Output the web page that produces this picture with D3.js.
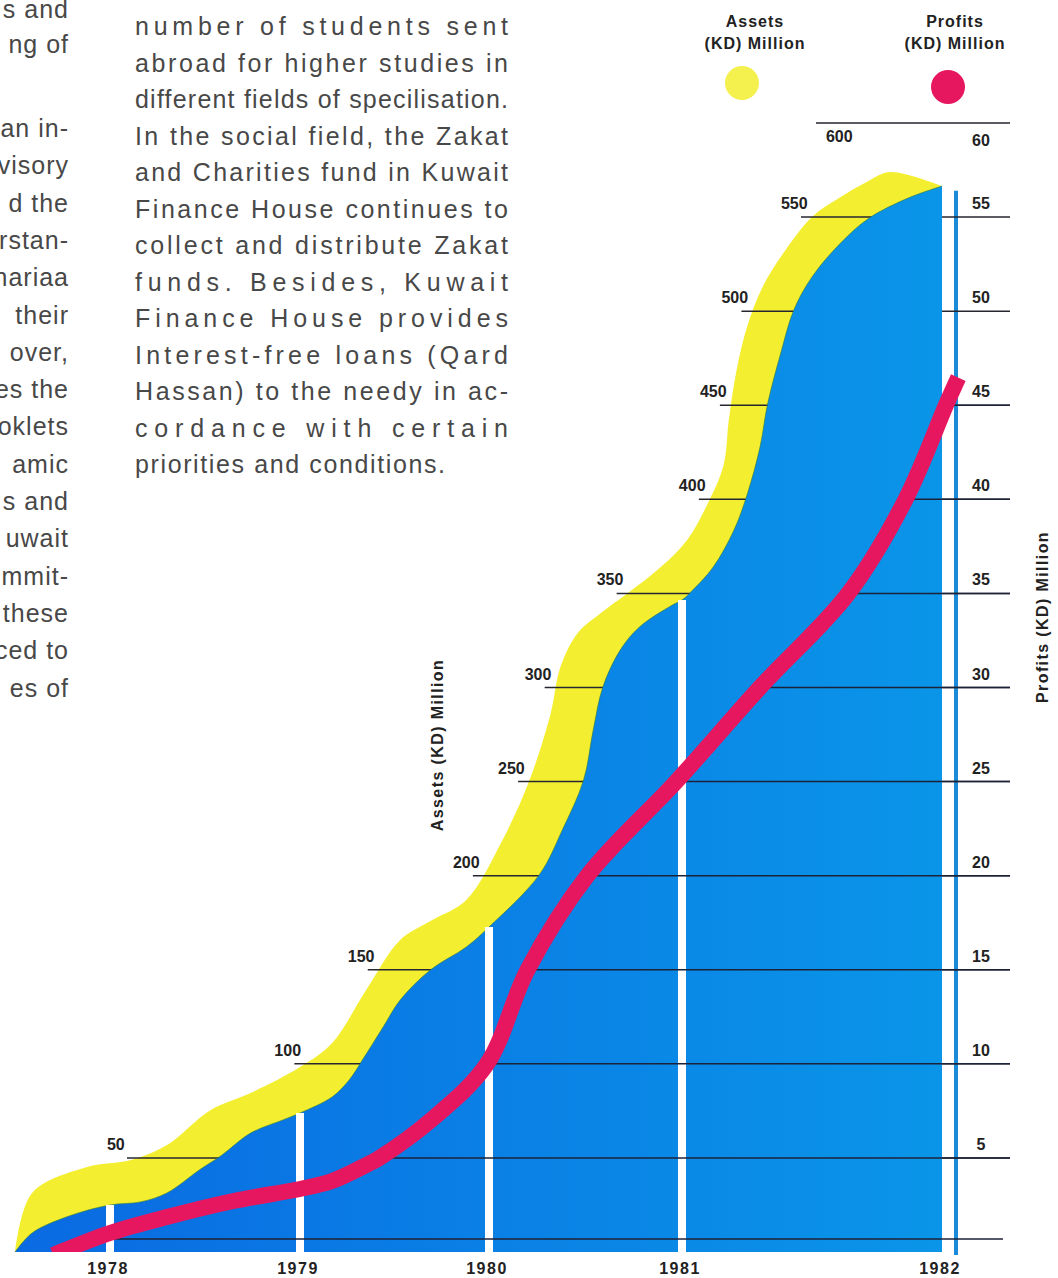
<!DOCTYPE html>
<html>
<head>
<meta charset="utf-8">
<script src="https://cdn.jsdelivr.net/npm/d3@7"></script>
<style>
  body { margin: 0; background: #fff; }
  svg { display: block; }
</style>
</head>
<body>
<svg width="1058" height="1278"></svg>
<script>
// values (assets and profits in KD million)
let yearNodes = [1977.5, 1978, 1979, 1980, 1981, 1982];
let years = [1978, 1979, 1980, 1981, 1982];
let assetTicks = [50, 100, 150, 200, 250, 300, 350, 400, 450, 500, 550, 600];
let profitTicks = [5, 10, 15, 20, 25, 30, 35, 40, 45, 50, 55, 60];

// outer (yellow) edge of the assets band
let assetsOuter = [
  [1977.5, 0], [1977.59, 31.4], [1977.88, 45.2], [1978.11, 48.9], [1978.30, 56.9],
  [1978.53, 75.5], [1978.74, 84.5], [1979, 98.3], [1979.17, 111.1], [1979.35, 139.2],
  [1979.53, 165.8], [1979.70, 176.4], [1979.88, 187.1], [1980.07, 219.0], [1980.21, 250.8],
  [1980.32, 286.5], [1980.37, 310.9], [1980.46, 329.0], [1980.58, 339.6], [1980.72, 350.2],
  [1980.89, 364.0], [1981.02, 378.4], [1981.10, 398.1], [1981.16, 418.3], [1981.18, 442.2],
  [1981.21, 468.7], [1981.25, 491.6], [1981.31, 512.9], [1981.39, 530.9], [1981.50, 550.1],
  [1981.61, 560.7], [1981.71, 568.7], [1981.80, 574.0], [1982, 566.5]
];
// inner (blue) edge
let assetsInner = [
  [1977.5, 0], [1977.59, 10.1], [1977.77, 18.6], [1978, 25.0], [1978.16, 26.6],
  [1978.30, 31.4], [1978.47, 43.6], [1978.59, 51.6], [1978.74, 63.2], [1978.91, 70.2],
  [1979, 73.9], [1979.17, 82.4], [1979.26, 91.4], [1979.33, 102.0], [1979.44, 119.6],
  [1979.53, 133.9], [1979.69, 149.9], [1979.88, 162.1], [1980, 172.7],
  [1980.26, 200.4], [1980.38, 224.3], [1980.49, 250.8], [1980.54, 277.4], [1980.59, 300.3],
  [1980.68, 319.9], [1980.78, 332.2], [1980.95, 343.8], [1981, 346.5], [1981.03, 350.2],
  [1981.12, 364.0], [1981.20, 383.7], [1981.25, 402.3], [1981.30, 427.8], [1981.33, 451.2],
  [1981.38, 477.8], [1981.43, 500.6], [1981.50, 518.2], [1981.61, 536.2], [1981.72, 549.5],
  [1981.87, 560.1], [1982, 566.5]
];
let profits = [
  [1977.74, 0], [1978, 1.01], [1978.30, 1.86], [1978.65, 2.71], [1979, 3.35],
  [1979.17, 3.77], [1979.35, 4.62], [1979.42, 5.0], [1979.70, 7.07], [1979.99, 10.0],
  [1980.20, 15.0], [1980.51, 20.0], [1980.97, 25.0], [1981.30, 30.0], [1981.64, 35.0],
  [1981.86, 40.0], [1982.015, 45.0], [1982.05, 46.08]
];

let bodyLines = [
  "number of students sent",
  "abroad for higher studies in",
  "different fields of specilisation.",
  "In the social field, the Zakat",
  "and Charities fund in Kuwait",
  "Finance House continues to",
  "collect and distribute Zakat",
  "funds. Besides, Kuwait",
  "Finance House provides",
  "Interest-free loans (Qard",
  "Hassan) to the needy in ac-",
  "cordance with certain",
  "priorities and conditions."
];
let marginTop = ["s and", "ng of"];
let marginLines = ["an in-", "visory", "d the", "rstan-", "nariaa", "their", "over,", "es the",
  "oklets", "amic", "s and", "uwait", "mmit-", "these", "ced to", "es of"];

let svg = d3.select('svg');
let font = '"Liberation Sans", Arial, sans-serif';

let x = d3.scaleLinear().domain(yearNodes).range([15, 110, 300, 489, 682, 942]);
let yA = d3.scaleLinear().domain([0, 600]).range([1252, 123]);
let yP = d3.scaleLinear().domain([0, 60]).range([1252, 123]);
let smooth = d3.curveCatmullRom.alpha(0.5);
let ruleEnd = 1010;

let defs = svg.append('defs');
defs.append('clipPath').attr('id', 'plot')
  .append('rect').attr('x', 0).attr('y', 0).attr('width', 1058).attr('height', yA(0));
let grad = defs.append('linearGradient').attr('id', 'blue')
  .attr('gradientUnits', 'userSpaceOnUse')
  .attr('x1', x(1977.5)).attr('x2', x(1982)).attr('y1', 0).attr('y2', 0);
grad.append('stop').attr('offset', 0).attr('stop-color', '#0a6ae2');
grad.append('stop').attr('offset', 1).attr('stop-color', '#0a95e8');

// ---- body text ----
let txt = svg.append('g').attr('font-family', font).attr('font-size', 25).attr('fill', '#484848');
bodyLines.forEach((s, i) => {
  txt.append('text')
    .attr('x', 135).attr('y', 35 + i * 36.5)
    .attr('textLength', i === bodyLines.length - 1 ? 310 : 373)
    .attr('lengthAdjust', 'spacing')
    .text(s);
});
marginTop.forEach((s, i) => {
  txt.append('text').attr('x', 69).attr('y', 18 + i * 35).attr('text-anchor', 'end')
    .attr('letter-spacing', 1).text(s);
});
marginLines.forEach((s, i) => {
  txt.append('text').attr('x', 69).attr('y', 137 + i * 37.3).attr('text-anchor', 'end')
    .attr('letter-spacing', 1).text(s);
});

// first point on a path at or above a given pixel height
let crossX = (node, yTarget) => {
  let L = node.getTotalLength();
  for (let s = 0; s <= L; s += 0.5) {
    let p = node.getPointAtLength(s);
    if (p.y <= yTarget) return p.x;
  }
  return null;
};

// ---- yellow band ----
let areaOf = data => d3.area().x(d => x(d[0])).y0(yA(0)).y1(d => yA(d[1])).curve(smooth)(data);
let lineOf = (data, yS) => d3.line().x(d => x(d[0])).y(d => yS(d[1])).curve(smooth)(data);

svg.append('path').attr('d', areaOf(assetsOuter)).attr('fill', '#f3ef30');
let outerEdge = svg.append('path').attr('d', lineOf(assetsOuter, yA))
  .attr('fill', 'none').attr('stroke', 'none');

// thin profits bar at the right
svg.append('rect')
  .attr('x', x(1982) + 12).attr('width', 4)
  .attr('y', yP(56.4)).attr('height', yP(0) - yP(56.4) + 3)
  .attr('fill', '#1b8ad9');

// asset rules, start a little before the yellow edge
let lastStart = 0;
let assetRules = assetTicks.map(t => {
  let cx = crossX(outerEdge.node(), yA(t));
  let top = cx == null;
  let start = top ? lastStart + 15 : cx - 11;
  if (!top) lastStart = start;
  return { t, start, top };
});
svg.append('g').selectAll('line').data(assetRules).enter().append('line')
  .attr('x1', d => d.start).attr('x2', ruleEnd)
  .attr('y1', d => yA(d.t)).attr('y2', d => yA(d.t))
  .attr('stroke', '#262630').attr('stroke-width', 1.5);

// ---- blue area ----
svg.append('path').attr('d', areaOf(assetsInner)).attr('fill', 'url(#blue)');
svg.append('path').attr('d', lineOf(assetsInner, yA))
  .attr('fill', 'none').attr('stroke', '#2f7a3c').attr('stroke-width', 1).attr('opacity', 0.6);

// white year lines up to the blue edge
let yearRules = years.filter(yr => yr < 1982);
svg.append('g').selectAll('line').data(yearRules).enter().append('line')
  .attr('x1', d => x(d)).attr('x2', d => x(d))
  .attr('y1', yA(0)).attr('y2', d => yA(assetsInner.find(p => p[0] === d)[1]))
  .attr('stroke', '#fff').attr('stroke-width', 8);

// ---- profits ----
let ruleG = svg.append('g');
let profitPath = svg.append('path').attr('d', lineOf(profits, yP))
  .attr('clip-path', 'url(#plot)')
  .attr('fill', 'none').attr('stroke', '#e6175e').attr('stroke-width', 16)
  .attr('stroke-linecap', 'square');

let maxProfit = d3.max(profits, d => d[1]);
let profitRules = profitTicks.filter(t => t < maxProfit)
  .map(t => ({ y: yP(t), start: crossX(profitPath.node(), yP(t)) - 8 }));
// unlabelled rule just above the base
let baseRuleY = yP(0) - 13;
profitRules.push({ y: baseRuleY, start: crossX(profitPath.node(), baseRuleY) - 14 });
ruleG.selectAll('line').data(profitRules).enter().append('line')
  .attr('x1', d => d.start).attr('x2', d => d.y === baseRuleY ? ruleEnd - 7 : ruleEnd)
  .attr('y1', d => d.y).attr('y2', d => d.y)
  .attr('stroke', '#1c2238').attr('stroke-width', 1.5);

// ---- labels ----
let lab = svg.append('g').attr('font-family', font).attr('font-size', 16)
  .attr('font-weight', 'bold').attr('fill', '#222');

lab.selectAll('text.a').data(assetRules).enter().append('text')
  .attr('x', d => d.top ? d.start + 10 : d.start - 20)
  .attr('y', d => d.top ? yA(d.t) + 19 : yA(d.t) - 8)
  .text(d => d.t);

lab.selectAll('text.p').data(profitTicks).enter().append('text')
  .attr('x', 981).attr('text-anchor', 'middle')
  .attr('y', d => d === d3.max(profitTicks) ? yP(d) + 23 : yP(d) - 8)
  .text(d => d);

lab.selectAll('text.y').data(years).enter().append('text')
  .attr('x', d => x(d) - 2).attr('y', 1274).attr('text-anchor', 'middle')
  .attr('letter-spacing', 1.5)
  .text(d => d);

// axis titles
lab.append('text')
  .attr('transform', 'translate(443,745) rotate(-90)')
  .attr('text-anchor', 'middle').attr('letter-spacing', 1.4)
  .text('Assets (KD) Million');
lab.append('text')
  .attr('transform', 'translate(1048,617) rotate(-90)')
  .attr('text-anchor', 'middle').attr('letter-spacing', 1.4)
  .text('Profits (KD) Million');

// legend
let legend = [
  { name: 'Assets', cx: 755, dot: 742, dy: 83, color: '#f4f04e' },
  { name: 'Profits', cx: 955, dot: 948, dy: 87, color: '#e6175e' }
];
legend.forEach(l => {
  lab.append('text').attr('x', l.cx).attr('y', 27).attr('text-anchor', 'middle')
    .attr('letter-spacing', 1).text(l.name);
  lab.append('text').attr('x', l.cx).attr('y', 49).attr('text-anchor', 'middle')
    .attr('letter-spacing', 1).text('(KD) Million');
  svg.append('circle').attr('cx', l.dot).attr('cy', l.dy).attr('r', 17).attr('fill', l.color);
});
</script>
</body>
</html>
